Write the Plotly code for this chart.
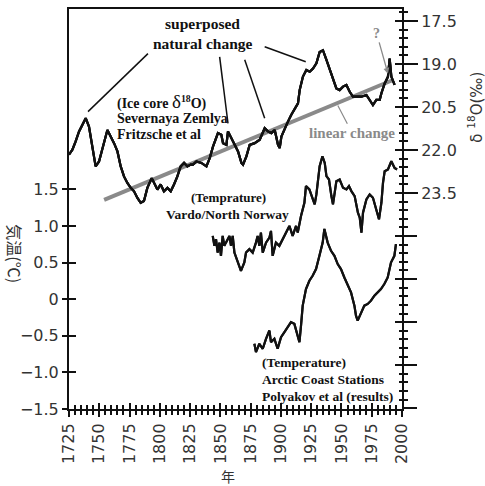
import plotly.graph_objects as go

# --- Ice core delta-18O, Severnaya Zemlya (Fritzsche et al), per mil ---
ice_years = [1725.0, 1727.8, 1730.5, 1733.3, 1736.1, 1738.8, 1741.5, 1744.3, 1747.0, 1749.8,
             1752.6, 1756.7, 1759.4, 1762.2, 1765.0, 1767.7, 1770.4, 1773.2, 1776.0, 1778.7,
             1781.5, 1784.2, 1786.9, 1789.7, 1793.3, 1795.2, 1798.0, 1800.7, 1803.4, 1806.3,
             1809.0, 1811.7, 1814.5, 1817.2, 1820.0, 1822.8, 1825.5, 1827.4, 1830.2, 1834.3,
             1838.5, 1841.2, 1843.9, 1848.0, 1850.8, 1852.2, 1855.0, 1856.3, 1859.1, 1861.8,
             1864.6, 1867.4, 1868.7, 1871.5, 1874.2, 1878.3, 1882.5, 1886.6, 1889.3, 1892.1,
             1894.9, 1897.6, 1899.0, 1900.4, 1903.1, 1905.8, 1908.6, 1911.4, 1914.1, 1915.5,
             1918.2, 1921.0, 1923.8, 1926.5, 1929.3, 1932.0, 1934.7, 1937.6, 1940.3, 1943.0,
             1945.8, 1948.5, 1951.3, 1954.1, 1956.8, 1959.5, 1962.3, 1966.5, 1970.6, 1973.3,
             1976.0, 1978.8, 1981.6, 1983.0, 1985.7, 1988.4, 1989.8, 1991.2, 1992.5, 1993.9]
ice_d18o = [22.16, 21.99, 21.70, 21.35, 21.12, 20.89, 21.18, 21.82, 22.57, 22.40,
            21.93, 21.30, 21.53, 21.76, 22.05, 22.57, 22.92, 23.15, 23.32, 23.44,
            23.67, 23.84, 23.78, 23.32, 22.98, 23.15, 23.38, 23.20, 23.44, 23.32,
            23.44, 23.20, 22.92, 22.57, 22.45, 22.57, 22.51, 22.51, 22.40, 22.45,
            22.57, 22.28, 21.88, 21.41, 21.47, 21.76, 21.82, 21.35, 21.59, 21.82,
            22.05, 22.45, 22.51, 22.22, 21.82, 21.76, 21.64, 21.24, 21.35, 21.41,
            21.30, 21.82, 21.93, 21.53, 21.24, 21.01, 20.77, 20.55, 20.37, 19.91,
            19.44, 19.21, 19.27, 19.16, 18.98, 18.58, 18.52, 18.86, 19.21, 19.50,
            19.85, 19.91, 19.79, 19.73, 19.97, 20.14, 20.14, 20.14, 20.08, 20.25,
            20.43, 20.25, 20.25, 20.02, 19.68, 19.44, 18.81, 19.44, 19.62, 19.73]

# --- Linear trend through the ice core record ---
trend_years = [1754, 1993]
trend_d18o = [23.74, 19.55]

# --- Temperature, Vardo / North Norway (deg C) ---
vardo_years = [1843.7, 1845.1, 1846.4, 1847.8, 1849.2, 1850.5, 1851.9, 1853.3, 1854.6, 1856.0,
               1857.5, 1858.8, 1860.2, 1861.6, 1864.3, 1867.0, 1869.8, 1871.2, 1874.0, 1876.7,
               1879.4, 1880.8, 1882.2, 1883.5, 1885.0, 1887.7, 1890.5, 1891.8, 1893.2, 1895.9,
               1898.7, 1901.5, 1904.2, 1907.0, 1909.7, 1912.5, 1913.9, 1916.6, 1919.4, 1920.7,
               1923.5, 1926.2, 1927.9, 1929.3, 1930.6, 1932.0, 1934.3, 1936.2, 1937.6, 1939.7,
               1941.7, 1943.0, 1944.4, 1945.8, 1948.5, 1951.3, 1954.1, 1956.2, 1958.2, 1960.9,
               1963.6, 1965.1, 1966.5, 1967.8, 1970.6, 1973.3, 1976.0, 1978.8, 1981.0, 1983.0,
               1984.3, 1985.7, 1988.4, 1991.2, 1993.9, 1995.9]
vardo_temp = [0.865, 0.729, 0.820, 0.637, 0.773, 0.593, 0.865, 0.729, 0.773, 0.820,
              0.865, 0.729, 0.865, 0.637, 0.501, 0.388, 0.501, 0.637, 0.684, 0.637,
              0.773, 0.865, 0.729, 0.910, 0.637, 0.773, 0.841, 0.933, 0.593, 0.773,
              0.729, 0.820, 0.910, 1.001, 0.865, 1.001, 0.910, 1.137, 1.318, 1.545,
              1.500, 1.364, 1.296, 1.432, 1.636, 1.817, 1.953, 1.862, 1.681, 1.636,
              1.409, 1.296, 1.454, 1.613, 1.636, 1.522, 1.500, 1.545, 1.477, 1.409,
              1.182, 1.114, 0.910, 1.182, 1.364, 1.432, 1.386, 1.228, 1.092, 1.318,
              1.590, 1.749, 1.772, 1.885, 1.794, 1.772]

# --- Temperature, Arctic coast stations (Polyakov et al) (deg C) ---
arctic_years = [1878.1, 1879.4, 1882.2, 1885.0, 1887.7, 1890.5, 1891.8, 1894.6, 1897.3, 1900.1,
                1902.9, 1905.6, 1908.3, 1911.1, 1913.9, 1915.3, 1916.6, 1918.0, 1920.7, 1923.5,
                1926.2, 1929.0, 1931.8, 1934.5, 1935.9, 1938.6, 1941.4, 1944.2, 1946.9, 1949.6,
                1952.4, 1955.1, 1957.9, 1960.7, 1962.0, 1963.4, 1966.1, 1968.9, 1971.7, 1974.4,
                1977.2, 1979.9, 1982.6, 1985.4, 1988.2, 1990.9, 1993.7, 1995.0]
arctic_temp = [-0.609, -0.723, -0.609, -0.677, -0.541, -0.428, -0.587, -0.541, -0.677, -0.519,
               -0.451, -0.383, -0.315, -0.337, -0.519, -0.587, -0.360, -0.088, 0.139, 0.252,
               0.320, 0.412, 0.593, 0.773, 0.960, 0.773, 0.661, 0.593, 0.480, 0.412,
               0.297, 0.184, 0.093, -0.088, -0.224, -0.292, -0.179, -0.088, -0.065, -0.020,
               0.048, 0.093, 0.139, 0.207, 0.297, 0.501, 0.593, 0.752]

# --- Axis ticks ---
temp_ticks = [-1.5, -1.0, -0.5, 0, 0.5, 1.0, 1.5]
temp_labels = ["\u22121.5", "\u22121.0", "\u22120.5", "0", "0.5", "1.0", "1.5"]
d18o_ticks = [17.5, 19.0, 20.5, 22.0, 23.5]
d18o_labels = ["17.5", "19.0", "20.5", "22.0", "23.5"]

X_RANGE = [1725, 2000]
T_RANGE = [-1.5, 3.965]
D_RANGE = [31.03, 17.083]  # reversed: lighter delta-18O upward

INK = "#111111"
GREY = "#8a8a8a"
TICK_FONT = dict(family="DejaVu Sans", size=16, color="#333333")
SERIF = "Liberation Serif"

fig = go.Figure()


def series(x, y, color=INK, width=2.2, xaxis="x", yaxis="y"):
    fig.add_trace(go.Scatter(x=x, y=y, xaxis=xaxis, yaxis=yaxis, mode="lines",
                             line=dict(color=color, width=width), hoverinfo="skip"))


series(trend_years, trend_d18o, GREY, 4, yaxis="y2")
series(ice_years, ice_d18o, yaxis="y2")
series(vardo_years, vardo_temp)
series(arctic_years, arctic_temp)
# the same curves placed again on the tick overlay axes (identical ranges),
# so those axes get a subplot and draw the inner half of the crossing ticks
series(vardo_years, vardo_temp, xaxis="x2")
series(arctic_years, arctic_temp, yaxis="y3")
series(ice_years, ice_d18o, yaxis="y4")
series(ice_years, ice_d18o, yaxis="y5")

plain = dict(showgrid=False, zeroline=False, tickcolor=INK, tickwidth=2)


def minor(side, length, step):
    return dict(ticks=side, ticklen=length, tickcolor=INK, tickwidth=1.6, dtick=step)


fig.update_layout(
    width=485, height=486,
    margin=dict(l=69, r=83, t=7, b=77),
    plot_bgcolor="white", paper_bgcolor="white",
    showlegend=False,
    xaxis=dict(range=X_RANGE, tickmode="linear", tick0=1725, dtick=25, **plain,
               ticks="outside", ticklen=6, tickangle=-90, tickfont=TICK_FONT,
               showline=True, linecolor=INK, linewidth=2, mirror=True,
               minor=minor("outside", 4, 5)),
    xaxis2=dict(range=X_RANGE, tickmode="linear", tick0=1725, dtick=25, **plain,
                overlaying="x", anchor="y", side="bottom", ticks="inside", ticklen=6,
                showticklabels=False, showline=False,
                minor=minor("inside", 4, 5)),
    yaxis=dict(range=T_RANGE, tickvals=temp_ticks, ticktext=temp_labels, **plain,
               ticks="outside", ticklen=5, tickfont=TICK_FONT,
               showline=True, linecolor=INK, linewidth=2),
    yaxis3=dict(range=T_RANGE, tickvals=temp_ticks, **plain, overlaying="y", anchor="x",
                side="left", ticks="inside", ticklen=7, showticklabels=False,
                showline=False),
    yaxis2=dict(range=D_RANGE, tickvals=d18o_ticks, ticktext=d18o_labels, **plain,
                overlaying="y", side="right", anchor="x", ticks="outside", ticklen=14,
                tickfont=TICK_FONT, showline=True, linecolor=INK, linewidth=2),
    yaxis4=dict(range=D_RANGE, tickmode="linear", tick0=17.5, dtick=1.5, **plain,
                overlaying="y", side="right", anchor="x", ticks="outside", ticklen=14,
                showticklabels=False, showline=False,
                minor=dict(minor("outside", 4.5, 0.3), tick0=17.5)),
    yaxis5=dict(range=D_RANGE, tickmode="linear", tick0=17.5, dtick=1.5, **plain,
                overlaying="y", side="right", anchor="x", ticks="inside", ticklen=7,
                showticklabels=False, showline=False,
                minor=dict(minor("inside", 3.5, 0.3), tick0=17.5)),
)

# leader lines from the "superposed natural change" caption to the ice-core peaks
leaders = [((1790.2, 18.64), (1740.7, 20.66)),
           ((1849.4, 18.75), (1856.3, 21.07)),
           ((1870.1, 18.85), (1886.6, 20.89)),
           ((1886.6, 18.40), (1920.5, 18.92))]
for (x0, y0), (x1, y1) in leaders:
    fig.add_shape(type="line", xref="x", yref="y2", x0=x0, y0=y0, x1=x1, y1=y1,
                  line=dict(color=INK, width=1.5))


def note(text, x, y, size, xanchor="left", color=INK, family=SERIF, **kw):
    fig.add_annotation(text=text, xref="paper", yref="paper", x=x, y=y,
                       xanchor=xanchor, yanchor="middle", showarrow=False,
                       font=dict(family=family, size=size, color=color), **kw)


note("<b>superposed</b>", 0.4015, 0.9634, 15.5, "center")
note("<b>natural change</b>", 0.4015, 0.9136, 15.5, "center")

note("<b>(Ice core </b><span style='font-size:19px'>\u03b4</span>"
     "<sup><b>18</b></sup><b>O)</b>", 0.1372, 0.7684, 14)
note("<b>Severnaya Zemlya</b>", 0.1372, 0.7269, 14)
note("<b>Fritzsche et al</b>", 0.1372, 0.6871, 14)

note("<b>(Temprature)</b>", 0.4796, 0.5278, 13, "center")
note("<b>Vardo/North Norway</b>", 0.4748, 0.4872, 13.5, "center")

note("<b>(Temperature)</b>", 0.5727, 0.1170, 13.5)
note("<b>Arctic Coast Stations</b>", 0.5727, 0.0739, 13.5)
note("<b>Polyakov et al (results)</b>", 0.5727, 0.0324, 13.5)

# grey captions with pointers
fig.add_annotation(text="<b>linear change</b>", xref="x", yref="y2", x=1947, y=20.45,
                   ax=14.5, ay=27.7, showarrow=True, arrowhead=0, arrowwidth=1.2,
                   arrowcolor=GREY, font=dict(family=SERIF, size=15, color=GREY))
fig.add_annotation(text="<b>?</b>", xref="x", yref="y2", x=1988.4, y=19.34,
                   ax=-11.3, ay=-40.3, showarrow=True, arrowhead=2, arrowsize=0.9,
                   arrowwidth=1.3, arrowcolor=GREY, font=dict(family=SERIF, size=14, color=GREY))

# axis titles
note("\u5e74", 0.4772, -0.1675, 14, "center", color="#333333", family="Noto Sans CJK JP")
note("\u6c17\u6e29(\u2103)", -0.1631, 0.3876, 16, "center", color="#333333",
     family="Noto Sans CJK JP", textangle=90)
note("\u03b4 <sup>18</sup>O(\u2030)", 1.2195, 0.7535, 15, "center", color="#333333",
     family="DejaVu Sans", textangle=-90)

fig.write_html("out.html")
